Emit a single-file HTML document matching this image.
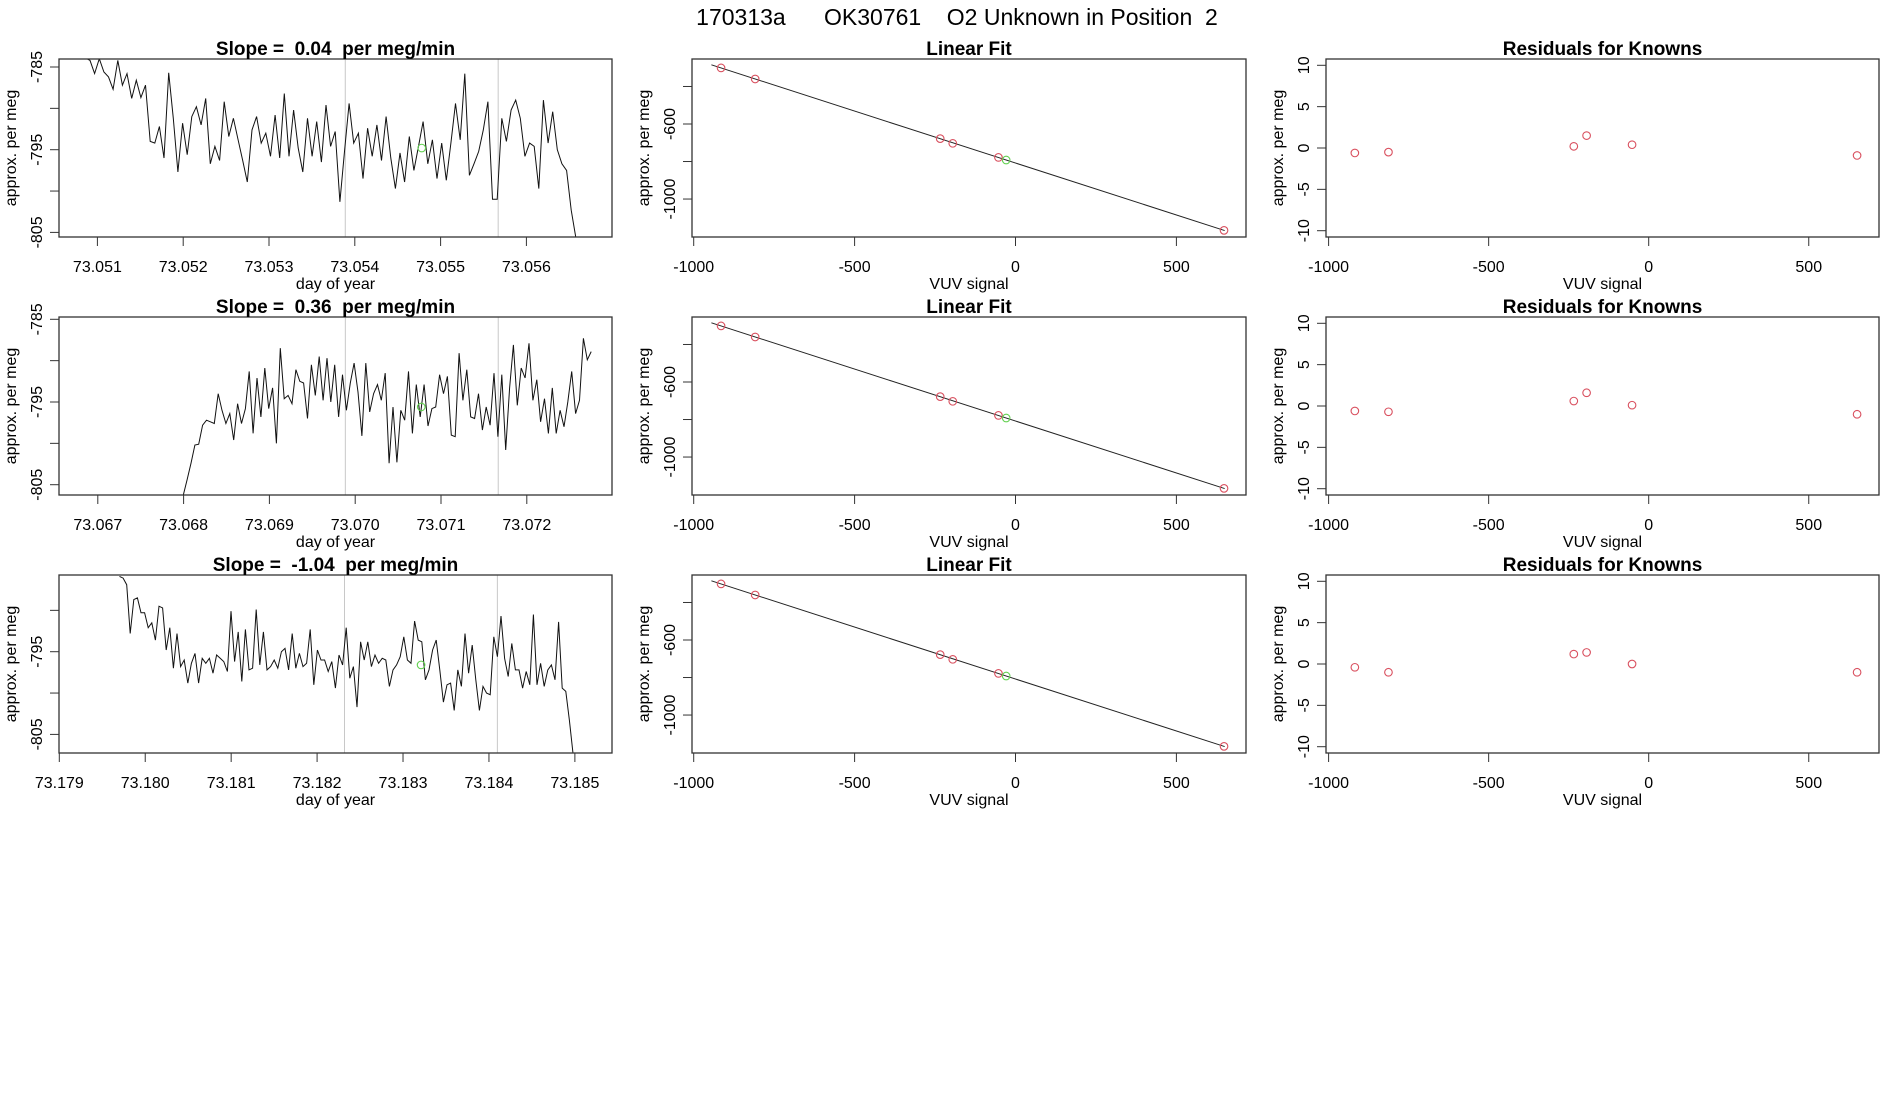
<!DOCTYPE html>
<html><head><meta charset="utf-8"><title>170313a OK30761 O2 Unknown in Position 2</title>
<style>
html,body{margin:0;padding:0;background:#fff;}
svg{display:block;font-family:"Liberation Sans",Arial,sans-serif;}
</style></head>
<body>
<svg id="fig" width="1900" height="1100" viewBox="0 0 1900 1100" xmlns="http://www.w3.org/2000/svg">
<rect x="0" y="0" width="1900" height="1100" fill="#fff"/>
<text x="957" y="25" font-size="23" text-anchor="middle" xml:space="preserve" style="white-space:pre">170313a      OK30761    O2 Unknown in Position  2</text>
</svg>
<script>
// ---------- data ----------
var series1 = [-783.9,-784.2,-785.8,-784,-785.6,-786.2,-787.7,-784.2,-787.2,-785.8,-788.8,-786.6,-788.7,-787.2,-794.0,-794.2,-792.2,-796.0,-785.7,-791.2,-797.7,-791.8,-795.6,-791.0,-789.8,-792.0,-788.8,-796.7,-794.6,-796.3,-789.2,-793.4,-791.2,-793.8,-796.3,-798.9,-792.6,-791.0,-794.2,-793.0,-795.8,-790.8,-796.0,-788.2,-795.8,-790.2,-794.8,-797.7,-791.2,-795.8,-791.6,-796.5,-789.6,-794.6,-792.8,-801.3,-795.2,-789.4,-794.2,-793.0,-798.5,-792.4,-795.8,-792.0,-796.3,-791.0,-796.0,-799.7,-795.4,-798.9,-793.4,-797.5,-794.6,-791.6,-796.7,-793.8,-798.5,-794.2,-798.7,-794.2,-789.4,-793.8,-785.8,-798.1,-796.7,-795.2,-792.6,-789.2,-801.0,-801.0,-791.2,-794.0,-790.2,-789.0,-791.2,-795.8,-794.2,-794.6,-799.7,-789.0,-794.2,-790.4,-795.0,-796.7,-797.5,-802.3,-805.6,-808];
var series2 = [-808,-806.3,-804.4,-802.4,-800.2,-800.1,-797.8,-797.2,-797.4,-797.6,-794.0,-796.0,-797.6,-796.4,-799.6,-795.2,-797.6,-795.8,-791.3,-798.8,-792.1,-796.8,-790.9,-795.8,-793.3,-800.0,-788.5,-794.6,-794.2,-795.2,-791.1,-792.5,-792.7,-797.0,-790.5,-794.2,-789.5,-794.8,-789.7,-795.0,-790.5,-796.8,-791.7,-796.0,-792.7,-790.3,-793.8,-799.1,-790.3,-796.2,-794.0,-792.9,-794.8,-791.5,-802.4,-795.6,-802.3,-796.0,-797.2,-791.3,-798.8,-792.9,-796.8,-792.9,-797.9,-795.8,-795.6,-791.7,-794.0,-791.9,-799.0,-799.2,-789.1,-794.8,-791.1,-796.8,-797.0,-794.0,-798.4,-795.6,-797.8,-791.5,-799.2,-791.7,-800.8,-793.3,-788.1,-795.4,-790.9,-792.1,-787.9,-794.8,-792.3,-797.4,-794.6,-798.8,-793.3,-798.8,-796.0,-798.0,-795.0,-791.3,-796.4,-794.8,-787.3,-789.9,-788.9];
var series3 = [-785.9,-786.1,-786.9,-792.8,-788.7,-788.5,-790.3,-790.3,-792.1,-791.5,-793.6,-789.5,-789.7,-794.8,-792.1,-797.0,-792.8,-796.8,-796.0,-798.8,-796.4,-795.2,-798.8,-795.8,-796.4,-795.8,-797.6,-795.4,-795.8,-796.2,-797.4,-790.1,-796.2,-792.6,-798.6,-792.3,-797.2,-797.0,-789.9,-796.6,-792.6,-797.2,-796.8,-796.0,-797.0,-795.0,-794.6,-797.2,-792.8,-797.0,-795.2,-796.8,-796.4,-792.3,-799.0,-794.8,-796.0,-796.0,-797.4,-796.2,-799.4,-795.4,-796.6,-792.1,-798.2,-796.8,-801.7,-793.8,-796.0,-793.8,-796.8,-795.4,-796.4,-795.8,-796.0,-799.2,-797.2,-796.6,-795.6,-793.2,-796.0,-796.4,-791.3,-793.6,-793.8,-798.4,-797.2,-794.8,-793.6,-797.2,-801.1,-799.0,-798.8,-802.1,-797.2,-799.2,-792.8,-797.6,-794.2,-798.4,-802.1,-799.2,-800.0,-800.2,-793.2,-795.6,-790.7,-795.8,-798.0,-794.0,-797.2,-797.2,-799.4,-797.4,-799.0,-790.5,-799.0,-796.4,-799.2,-797.2,-796.6,-798.4,-791.4,-799.4,-799.8,-803.3,-807.3,-812];
var timeStart = [73.05086, 73.06795, 73.17970];
var timeEnd = [73.05663, 73.07275, 73.18502];
var dayTicks1 = ["73.051","73.052","73.053","73.054","73.055","73.056"];
var dayTicks2 = ["73.067","73.068","73.069","73.070","73.071","73.072"];
var dayTicks3 = ["73.179","73.180","73.181","73.182","73.183","73.184","73.185"];
var slopeLabels = ["0.04","0.36","-1.04"];
var windowStart = [73.053889, 73.069885, 73.182319];
var windowEnd = [73.055671, 73.071667, 73.184098];
var unknownDay = [73.05478, 73.07077, 73.18321];
var unknownVal = [-794.8, -795.6, -796.6];
var fitX = [-915,-809,-234,-195,-53,648];
var fitY = [-301,-360,-678,-703,-778,-1167];
var unkSignal = -29;
var unkFitVal = -792;
var fitIntercept = -808;
var fitSlope = -0.554;
var resid1 = [-0.6,-0.5,0.2,1.5,0.4,-0.9];
var resid2 = [-0.6,-0.7,0.6,1.6,0.1,-1.0];
var resid3 = [-0.4,-1.0,1.2,1.4,0.0,-1.0];
var residX = [-918,-813,-234,-194,-52,651];
var vuvTicks = [-1000,-500,0,500];
var fitYTicks = [-400,-600,-800,-1000];
var residTicks = [10,5,0,-5,-10];

// ---------- layout ----------
var NS = "http://www.w3.org/2000/svg";
var svg = document.getElementById("fig");
var colX = [[59,612],[692,1246],[1326,1879]];
var rowTop = [59,317,575], rowH = 178;
var RED = "#D9505F", GREEN = "#61D04F";

function mk(tag, attrs, parent, txt){
  var e = document.createElementNS(NS, tag);
  for (var k in attrs) e.setAttribute(k, attrs[k]);
  if (txt !== undefined) e.textContent = txt;
  (parent || svg).appendChild(e);
  return e;
}

var defs = mk("defs", {});
for (var r = 0; r < 3; r++) {
  for (var c = 0; c < 3; c++) {
    var cp = mk("clipPath", {id: "clip" + r + c}, defs);
    mk("rect", {x: colX[c][0], y: rowTop[r], width: colX[c][1]-colX[c][0], height: rowH}, cp);
  }
}

function frame(g, c, r){
  var b = mk("rect", {x: colX[c][0], y: rowTop[r], width: colX[c][1]-colX[c][0], height: rowH, fill: "none", stroke: "#333", "stroke-width": 1.3}, g);
  
  
}
function title(g, c, r, s){
  var t = mk("text", {x: (colX[c][0]+colX[c][1])/2, y: rowTop[r]-4, "font-size": 19, "font-weight": "bold", "text-anchor": "middle", "xml:space": "preserve", style: "white-space:pre"}, g, s);
  
  
}
function xTick(g, px, r, label){
  var bot = rowTop[r] + rowH;
  var l = mk("line", {x1: px, x2: px, y1: bot, y2: bot+9, stroke: "#333", "stroke-width": 1}, g);
  
  
  if (label !== null) {
    var t = mk("text", {x: px, y: bot+35, "font-size": 16, "text-anchor": "middle"}, g, label);
    
    
  }
}
function yTick(g, c, py, label){
  var left = colX[c][0];
  var l = mk("line", {x1: left-9, x2: left, y1: py, y2: py, stroke: "#333", "stroke-width": 1}, g);
  
  
  if (label !== null) {
    var tx = left - 17;
    var t = mk("text", {x: tx, y: py, "font-size": 16, "text-anchor": "middle", transform: "rotate(-90 " + tx + " " + py + ")"}, g, label);
    
    
  }
}
function axisTitles(g, c, r, xlab){
  var bot = rowTop[r] + rowH;
  var t = mk("text", {x: (colX[c][0]+colX[c][1])/2, y: bot+52, "font-size": 16, "text-anchor": "middle"}, g, xlab);
  
  
  var tx = colX[c][0] - 43, ty = rowTop[r] + rowH/2;
  var y = mk("text", {x: tx, y: ty, "font-size": 16, "text-anchor": "middle", transform: "rotate(-90 " + tx + " " + ty + ")"}, g, "approx. per meg");
  
  
}
function circle(g, cx, cy, col, name){
  var e = mk("circle", {cx: cx, cy: cy, r: 3.8, fill: "none", stroke: col, "stroke-width": 1.1}, g);
  
  
}

// ---------- column 1: time series ----------
var seriesList = [series1, series2, series3];
var dayTickList = [dayTicks1, dayTicks2, dayTicks3];
var xRef = [[73.051, 97.4, 85800],[73.067, 97.8, 85800],[73.179, 59.3, 85930]];
var yRef795 = [149.7, 402, 651.7];
var yPerUnit = 8.27;
var yTickSets = [
  [[-785,"-785"],[-790,null],[-795,"-795"],[-800,null],[-805,"-805"]],
  [[-785,"-785"],[-790,null],[-795,"-795"],[-800,null],[-805,"-805"]],
  [[-790,null],[-795,"-795"],[-800,null],[-805,"-805"]]
];
for (var r = 0; r < 3; r++) {
  (function(r){
    var g = mk("g", {});
    
    
    var xs = function(t){ return xRef[r][1] + (t - xRef[r][0]) * xRef[r][2]; };
    var ys = function(v){ return yRef795[r] - (v + 795) * yPerUnit; };
    var clip = mk("g", {"clip-path": "url(#clip" + r + "0)"}, g);
    [windowStart[r], windowEnd[r]].forEach(function(t){
      var l = mk("line", {x1: xs(t), x2: xs(t), y1: rowTop[r], y2: rowTop[r]+rowH, stroke: "#c8c8c8", "stroke-width": 1}, clip);
      
      
    });
    var s = seriesList[r], n = s.length, pts = [];
    for (var i = 0; i < n; i++) {
      var t = timeStart[r] + (timeEnd[r] - timeStart[r]) * i / (n - 1);
      pts.push(xs(t).toFixed(1) + "," + ys(s[i]).toFixed(1));
    }
    var pl = mk("polyline", {points: pts.join(" "), fill: "none", stroke: "#111", "stroke-width": 1}, clip);
    
    
    circle(clip, xs(unknownDay[r]), ys(unknownVal[r]), GREEN, 'unknown-mean-point');
    frame(g, 0, r);
    var dt = dayTickList[r];
    for (var k = 0; k < dt.length; k++) xTick(g, xs(parseFloat(dt[k])), r, dt[k]);
    yTickSets[r].forEach(function(tk){ yTick(g, 0, ys(tk[0]), tk[1]); });
    title(g, 0, r, "Slope =  " + slopeLabels[r] + "  per meg/min");
    axisTitles(g, 0, r, "day of year");
  })(r);
}

// ---------- column 2: linear fit ----------
for (var r = 0; r < 3; r++) {
  (function(r){
    var g = mk("g", {});
    
    
    var off = rowTop[r] - rowTop[0];
    var xs = function(v){ return 1015.5 + v * 0.3218; };
    var ys = function(v){ return 124 + off - (v + 600) * 0.1876; };
    var clip = mk("g", {"clip-path": "url(#clip" + r + "1)"}, g);
    var x0 = -945, x1 = 650;
    var ln = mk("line", {x1: xs(x0), y1: ys(fitIntercept + fitSlope*x0), x2: xs(x1), y2: ys(fitIntercept + fitSlope*x1), stroke: "#222", "stroke-width": 1}, clip);
    
    
    for (var i = 0; i < fitX.length; i++) circle(clip, xs(fitX[i]), ys(fitY[i]), RED, 'known-standard-point');
    circle(clip, xs(unkSignal), ys(unkFitVal), GREEN, 'unknown-point');
    frame(g, 1, r);
    vuvTicks.forEach(function(v){ xTick(g, xs(v), r, String(v)); });
    fitYTicks.forEach(function(v){ yTick(g, 1, ys(v), (v === -600 || v === -1000) ? String(v) : null); });
    title(g, 1, r, "Linear Fit");
    axisTitles(g, 1, r, "VUV signal");
  })(r);
}

// ---------- column 3: residuals ----------
var residList = [resid1, resid2, resid3];
for (var r = 0; r < 3; r++) {
  (function(r){
    var g = mk("g", {});
    
    
    var off = rowTop[r] - rowTop[0];
    var xs = function(v){ return 1648.7 + v * 0.3201; };
    var ys = function(v){ return 148 + off - v * 8.27; };
    var clip = mk("g", {"clip-path": "url(#clip" + r + "2)"}, g);
    var res = residList[r];
    for (var i = 0; i < res.length; i++) circle(clip, xs(residX[i]), ys(res[i]), RED, 'residual-point');
    frame(g, 2, r);
    vuvTicks.forEach(function(v){ xTick(g, xs(v), r, String(v)); });
    residTicks.forEach(function(v){ yTick(g, 2, ys(v), String(v)); });
    title(g, 2, r, "Residuals for Knowns");
    axisTitles(g, 2, r, "VUV signal");
  })(r);
}
</script>
</body></html>
